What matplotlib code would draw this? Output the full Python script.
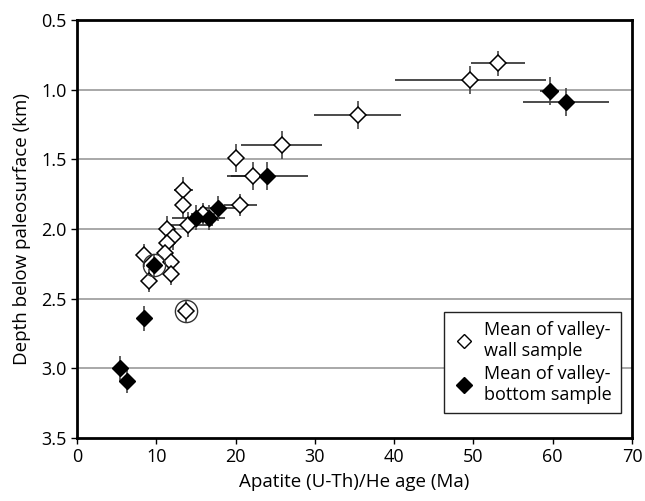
import matplotlib
matplotlib.use("Agg")
import matplotlib.pyplot as plt
from matplotlib.lines import Line2D

plt.rcParams['font.family'] = ['Open Sans', 'DejaVu Sans']

# Valley-wall samples (open diamonds)
wall_age = [53.1, 49.6, 35.4, 25.8, 20.0, 22.2, 20.6, 13.4, 13.4, 15.9, 14.0, 11.4, 12.1, 11.3, 11.1, 8.4, 11.8, 11.9, 9.1, 13.7]
wall_depth = [0.81, 0.93, 1.18, 1.40, 1.49, 1.62, 1.83, 1.72, 1.83, 1.89, 1.97, 2.00, 2.06, 2.10, 2.17, 2.19, 2.24, 2.32, 2.37, 2.59]
wall_xerr = [3.4, 9.5, 5.5, 5.1, 0.6, 2.8, 2.1, 1.2, 0.6, 1.5, 3.2, 1.0, 1.0, 0.8, 0.8, 0.6, 0.8, 0.8, 0.6, 0.6]
wall_yerr = [0.09, 0.10, 0.10, 0.10, 0.10, 0.10, 0.08, 0.09, 0.09, 0.08, 0.09, 0.09, 0.09, 0.08, 0.08, 0.08, 0.08, 0.08, 0.08, 0.08]

# Valley-bottom samples (filled diamonds)
bot_age = [59.6, 61.7, 24.0, 17.8, 15.0, 16.7, 9.7, 8.4, 5.4, 6.3]
bot_depth = [1.01, 1.09, 1.62, 1.85, 1.92, 1.92, 2.26, 2.64, 3.00, 3.09]
bot_xerr = [1.2, 5.4, 5.1, 2.3, 3.0, 2.0, 0.8, 0.5, 0.5, 0.5]
bot_yerr = [0.10, 0.10, 0.10, 0.09, 0.09, 0.09, 0.08, 0.09, 0.09, 0.09]

# Circled samples
circ_age = [9.7, 13.7]
circ_depth = [2.26, 2.59]

x_ticks = [0, 10, 20, 30, 40, 50, 60, 70]
y_ticks = [0.5, 1.0, 1.5, 2.0, 2.5, 3.0, 3.5]

fig = plt.figure(figsize=(6.45, 5.01), dpi=100)
ax = fig.add_axes([77/645, 1-438/501, 555/645, 418/501])

for yt in y_ticks[1:-1]:
    ax.axhline(yt, color='#9a9a9a', lw=1.2, zorder=0)

ax.errorbar(wall_age, wall_depth, xerr=wall_xerr, fmt='none',
            ecolor='#1a1a1a', elinewidth=1.1, capsize=0, zorder=1)
ax.errorbar(wall_age, wall_depth, yerr=wall_yerr, fmt='none',
            ecolor='#444444', elinewidth=1.2, capsize=0, zorder=1)
ax.errorbar(bot_age, bot_depth, xerr=bot_xerr, fmt='none',
            ecolor='#1a1a1a', elinewidth=1.1, capsize=0, zorder=1)
ax.errorbar(bot_age, bot_depth, yerr=bot_yerr, fmt='none',
            ecolor='#444444', elinewidth=1.2, capsize=0, zorder=1)

for a, d in zip(wall_age, wall_depth):
    ax.plot([a], [d], marker='D', ms=8, mfc='white', mec='black', mew=1.1, ls='none', zorder=3)
for a, d in zip(bot_age, bot_depth):
    ax.plot([a], [d], marker='D', ms=8.5, mfc='black', mec='black', mew=1.0, ls='none', zorder=4)

ax.plot(circ_age, circ_depth, marker='o', ms=16, mfc='none', mec='#333333', mew=1.0, ls='none', zorder=5)

ax.set_xlim(0, 70)
ax.set_ylim(3.5, 0.5)
ax.set_xticks(x_ticks)
ax.set_yticks(y_ticks)
ax.set_yticklabels([f"{v:.1f}" for v in y_ticks])
ax.tick_params(direction='out', length=4, width=1, labelsize=13, colors='black')
for s in ax.spines.values():
    s.set_linewidth(2)
    s.set_color('black')

ax.set_xlabel('Apatite (U-Th)/He age (Ma)', fontsize=13.5, labelpad=5)
ax.set_ylabel('Depth below paleosurface (km)', fontsize=13.5, labelpad=7)

handles = [
    Line2D([], [], marker='D', ms=7, mfc='white', mec='black', mew=1.0, ls='none'),
    Line2D([], [], marker='D', ms=8, mfc='black', mec='black', ls='none'),
]
leg = ax.legend(handles, ['Mean of valley-\nwall sample', 'Mean of valley-\nbottom sample'],
                loc='lower right', bbox_to_anchor=(0.98, 0.06), borderaxespad=0,
                fontsize=13, frameon=True, fancybox=False, edgecolor='#222222', framealpha=1,
                handletextpad=0.5, handlelength=1.2, borderpad=0.5, labelspacing=0.3)
leg.get_frame().set_linewidth(1.0)

fig.savefig('out.png', dpi=100)
